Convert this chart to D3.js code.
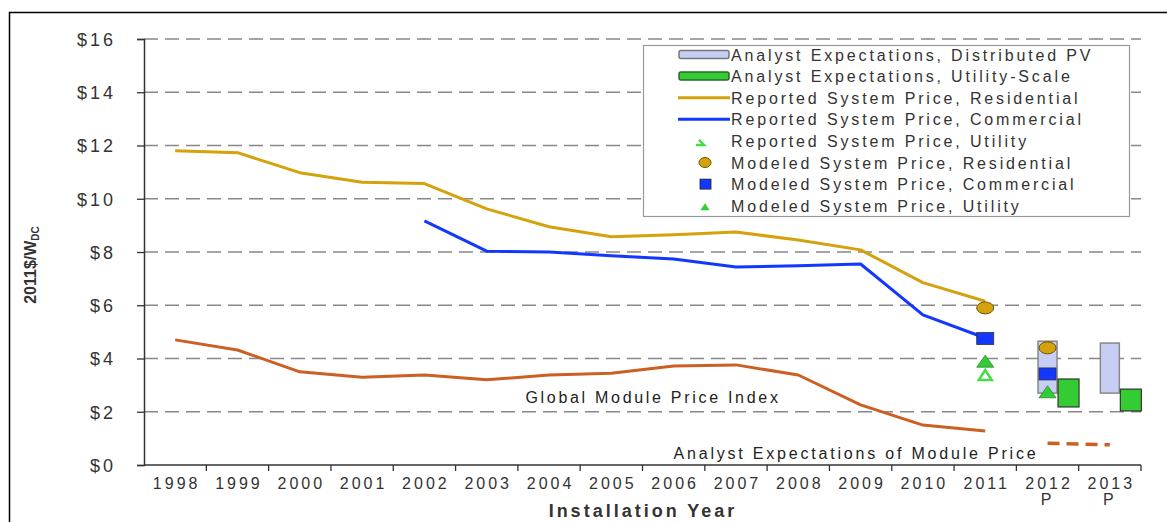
<!DOCTYPE html>
<html>
<head>
<meta charset="utf-8">
<script src="https://cdn.jsdelivr.net/npm/d3@7"></script>
<style>
  body { margin: 0; background: #fff; }
  svg { display: block; font-family: "Liberation Sans", Arial, sans-serif; }
</style>
</head>
<body>
<svg id="chart" width="1167" height="522"></svg>
<script>
const years = ['1998','1999','2000','2001','2002','2003','2004','2005','2006','2007','2008','2009','2010','2011','2012','2013']
const yTicks = [0, 2, 4, 6, 8, 10, 12, 14, 16]

const histYears = ['1998','1999','2000','2001','2002','2003','2004','2005','2006','2007','2008','2009','2010','2011']
const residential = [11.8, 11.73, 10.98, 10.62, 10.57, 9.62, 8.95, 8.57, 8.65, 8.75, 8.45, 8.08, 6.85, 6.15]
const commercialYears = ['2002','2003','2004','2005','2006','2007','2008','2009','2010','2011']
const commercial = [9.17, 8.03, 8.0, 7.86, 7.74, 7.44, 7.48, 7.55, 5.64, 4.77]
const modulePrice = [4.7, 4.32, 3.5, 3.3, 3.38, 3.2, 3.38, 3.45, 3.72, 3.76, 3.38, 2.26, 1.5, 1.28]

const moduleExpYears = ['2012', '2013']
const moduleExp = [0.82, 0.76]

// analyst expectation ranges [low, high]
const distYears = ['2012', '2013']
const distRange = [[2.7, 4.65], [2.7, 4.58]]
const utilYears = ['2012', '2013']
const utilRange = [[2.18, 3.23], [2.03, 2.85]]

const modeledRes = [['2011', 5.9], ['2012', 4.4]]
const modeledCom = [['2011', 4.75], ['2012', 3.42]]
const modeledUtil = [['2011', 3.9], ['2012', 2.75]]
const reportedUtil = [['2011', 3.38]]

const legendLabels = [
  'Analyst Expectations, Distributed PV',
  'Analyst Expectations, Utility-Scale',
  'Reported System Price, Residential',
  'Reported System Price, Commercial',
  'Reported System Price, Utility',
  'Modeled System Price, Residential',
  'Modeled System Price, Commercial',
  'Modeled System Price, Utility'
]

const GOLD = '#d4a20c', BLUE = '#1238ff', ORANGE = '#cc5f22', GREEN = '#33cc33', LBLUE = '#c6cef3'
const INK = '#333'

// upward triangle centred on its box, w wide and h tall
const triPath = (w, h) => `M0,${-h / 2}L${w / 2},${h / 2}L${-w / 2},${h / 2}Z`

function draw() {
  const svg = d3.select('#chart')
  const left = 144, right = 1141, top = 39, bottom = 465

  const x = d3.scaleBand().domain(years).range([left, right]).padding(0)
  const y = d3.scaleLinear().domain([0, 16]).range([bottom, top])
  const cx = d => x(d) + x.bandwidth() / 2

  // outer frame
  svg.append('rect')
    .attr('x', 9.5).attr('y', 12.5)
    .attr('width', 1300).attr('height', 700)
    .attr('fill', 'none').attr('stroke', '#000').attr('stroke-width', 1.5)

  // grid
  svg.append('g').selectAll('line')
    .data(yTicks.filter(d => d > 0))
    .join('line')
    .attr('x1', left).attr('x2', right)
    .attr('y1', d => y(d)).attr('y2', d => y(d))
    .attr('stroke', '#888').attr('stroke-width', 1.3)
    .attr('stroke-dasharray', '14,7')

  // y axis
  const yAxis = svg.append('g')
    .attr('transform', `translate(${left},0)`)
    .call(d3.axisLeft(y).tickValues(yTicks).tickSize(7).tickPadding(21).tickFormat(d => '$' + d))
  yAxis.select('.domain').attr('stroke', INK).attr('stroke-width', 1.5)
  yAxis.selectAll('.tick line').attr('stroke', INK).attr('stroke-width', 1.3)
  yAxis.selectAll('text').attr('font-size', 18).attr('fill', INK)
    .attr('letter-spacing', 3).attr('dy', '0.36em')

  // x axis ticks at category boundaries
  const xAxisG = svg.append('g')
  xAxisG.append('line')
    .attr('x1', left).attr('x2', right)
    .attr('y1', bottom).attr('y2', bottom)
    .attr('stroke', INK).attr('stroke-width', 1.5)
  xAxisG.selectAll('line.tk')
    .data(years.slice(1).concat(['end']))
    .join('line')
    .attr('class', 'tk')
    .attr('x1', d => d === 'end' ? right : x(d))
    .attr('x2', d => d === 'end' ? right : x(d))
    .attr('y1', bottom).attr('y2', bottom + 6)
    .attr('stroke', INK).attr('stroke-width', 1.3)
  const lab = xAxisG.selectAll('text.yl')
    .data(years)
    .join('text')
    .attr('class', 'yl')
    .attr('x', d => cx(d) + 1.5)
    .attr('y', bottom + 24)
    .attr('text-anchor', 'middle')
    .attr('font-size', 16)
    .attr('letter-spacing', 3)
    .attr('fill', INK)
  lab.append('tspan').text(d => d)
  lab.filter(d => d === '2012' || d === '2013')
    .append('tspan')
    .attr('x', d => cx(d)).attr('dy', 16)
    .text('P')

  // axis titles
  svg.append('text')
    .attr('x', 643).attr('y', 517)
    .attr('text-anchor', 'middle')
    .attr('font-size', 18).attr('font-weight', 'bold').attr('fill', INK)
    .attr('letter-spacing', 3)
    .text('Installation Year')
  const yt = svg.append('text')
    .attr('transform', 'translate(36,265) rotate(-90)')
    .attr('text-anchor', 'middle')
    .attr('font-size', 16).attr('font-weight', 'bold').attr('fill', INK)
  yt.append('tspan').text('2011$/W')
  yt.append('tspan').attr('font-size', 10).attr('dy', 3).text('DC')

  const line = d3.line().x(d => cx(d[0])).y(d => y(d[1]))

  // module price index
  svg.append('path')
    .attr('d', line(d3.zip(histYears, modulePrice)))
    .attr('fill', 'none').attr('stroke', ORANGE).attr('stroke-width', 3)
    .attr('stroke-linejoin', 'round')
  svg.append('path')
    .attr('d', line(d3.zip(moduleExpYears, moduleExp)))
    .attr('fill', 'none').attr('stroke', ORANGE).attr('stroke-width', 3.5)
    .attr('stroke-dasharray', '12,7')

  // residential & commercial
  svg.append('path')
    .attr('d', line(d3.zip(histYears, residential)))
    .attr('fill', 'none').attr('stroke', GOLD).attr('stroke-width', 3)
    .attr('stroke-linejoin', 'round')
  svg.append('path')
    .attr('d', line(d3.zip(commercialYears, commercial)))
    .attr('fill', 'none').attr('stroke', BLUE).attr('stroke-width', 3)
    .attr('stroke-linejoin', 'round')

  // text annotations
  svg.append('text')
    .attr('x', 653).attr('y', 403)
    .attr('text-anchor', 'middle').attr('font-size', 16).attr('fill', '#222')
    .attr('letter-spacing', 2.7)
    .text('Global Module Price Index')
  const ann = svg.append('text')
    .attr('x', 856).attr('y', 459)
    .attr('text-anchor', 'middle').attr('font-size', 16).attr('fill', '#222')
    .attr('letter-spacing', 2.8)
    .text('Analyst Expectations of Module Price')
  const bb = ann.node().getBBox()
  svg.insert('rect', () => ann.node())
    .attr('x', bb.x - 3).attr('y', bb.y).attr('width', bb.width + 2).attr('height', bb.height + 2)
    .attr('fill', '#fff')

  // analyst expectation boxes
  svg.append('g').selectAll('rect')
    .data(d3.zip(distYears, distRange))
    .join('rect')
    .attr('x', d => cx(d[0]) - 9.5).attr('width', 19)
    .attr('y', d => y(d[1][1])).attr('height', d => y(d[1][0]) - y(d[1][1]))
    .attr('fill', LBLUE).attr('stroke', '#888').attr('stroke-width', 1.5)
  svg.append('g').selectAll('rect')
    .data(d3.zip(utilYears, utilRange))
    .join('rect')
    .attr('x', d => cx(d[0]) + 10.5).attr('width', 21)
    .attr('y', d => y(d[1][1])).attr('height', d => y(d[1][0]) - y(d[1][1]))
    .attr('fill', GREEN).attr('stroke', INK).attr('stroke-width', 1.2)

  // modeled / reported points
  svg.append('g').selectAll('path')
    .data(reportedUtil)
    .join('path')
    .attr('d', triPath(13, 10))
    .attr('transform', d => `translate(${cx(d[0])},${y(d[1])})`)
    .attr('fill', '#fff').attr('stroke', '#44dd44').attr('stroke-width', 2.5)
  svg.append('g').selectAll('path')
    .data(modeledUtil)
    .join('path')
    .attr('d', triPath(17, 12))
    .attr('transform', d => `translate(${cx(d[0])},${y(d[1])})`)
    .attr('fill', GREEN).attr('stroke', '#2a8a2a').attr('stroke-width', 0.8)
  svg.append('g').selectAll('rect')
    .data(modeledCom)
    .join('rect')
    .attr('x', d => cx(d[0]) - 8.5).attr('y', d => y(d[1]) - 6)
    .attr('width', 17).attr('height', 12)
    .attr('fill', BLUE).attr('stroke', INK).attr('stroke-width', 0.8)
  svg.append('g').selectAll('ellipse')
    .data(modeledRes)
    .join('ellipse')
    .attr('cx', d => cx(d[0])).attr('cy', d => y(d[1]))
    .attr('rx', 8.5).attr('ry', 6)
    .attr('fill', GOLD).attr('stroke', '#6a5200').attr('stroke-width', 1)

  // legend
  const lg = svg.append('g')
  lg.append('rect')
    .attr('x', 643.5).attr('y', 45.5).attr('width', 486).attr('height', 171)
    .attr('fill', '#fff').attr('stroke', '#999').attr('stroke-width', 1.2)
  const rowY = i => 54.5 + i * 21.6
  const items = lg.selectAll('g.item')
    .data(legendLabels)
    .join('g').attr('class', 'item')
    .attr('transform', (d, i) => `translate(0,${rowY(i)})`)
  items.append('text')
    .attr('x', 731)
    .attr('y', 6)
    .attr('font-size', 16).attr('fill', INK)
    .attr('letter-spacing', 2.85)
    .text(d => d)
  items.each(function(d, i) {
    const g = d3.select(this)
    if (i === 0) g.append('rect').attr('x', 679).attr('y', -4).attr('width', 50).attr('height', 8)
      .attr('rx', 2).attr('fill', LBLUE).attr('stroke', '#777').attr('stroke-width', 1.5)
    if (i === 1) g.append('rect').attr('x', 679).attr('y', -4).attr('width', 50).attr('height', 8)
      .attr('rx', 2).attr('fill', GREEN).attr('stroke', '#2a6a2a').attr('stroke-width', 1.5)
    if (i === 2) g.append('line').attr('x1', 678).attr('x2', 730).attr('y1', 0).attr('y2', 0)
      .attr('stroke', GOLD).attr('stroke-width', 3)
    if (i === 3) g.append('line').attr('x1', 678).attr('x2', 730).attr('y1', 0).attr('y2', 0)
      .attr('stroke', BLUE).attr('stroke-width', 3)
    if (i === 4) g.append('path').attr('d', 'M696,4 L704,4 L699,-1')
      .attr('fill', 'none').attr('stroke', '#44dd44').attr('stroke-width', 2.5)
    if (i === 5) g.append('ellipse').attr('cx', 705).attr('cy', 0).attr('rx', 6).attr('ry', 5)
      .attr('fill', GOLD).attr('stroke', '#6a5200').attr('stroke-width', 1)
    if (i === 6) g.append('rect').attr('x', 700).attr('y', -5).attr('width', 11).attr('height', 10)
      .attr('fill', BLUE).attr('stroke', '#222').attr('stroke-width', 0.8)
    if (i === 7) g.append('path').attr('d', triPath(9, 7))
      .attr('transform', 'translate(705,1)').attr('fill', GREEN)
  })
}

document.addEventListener('DOMContentLoaded', draw, false)
</script>
</body>
</html>
